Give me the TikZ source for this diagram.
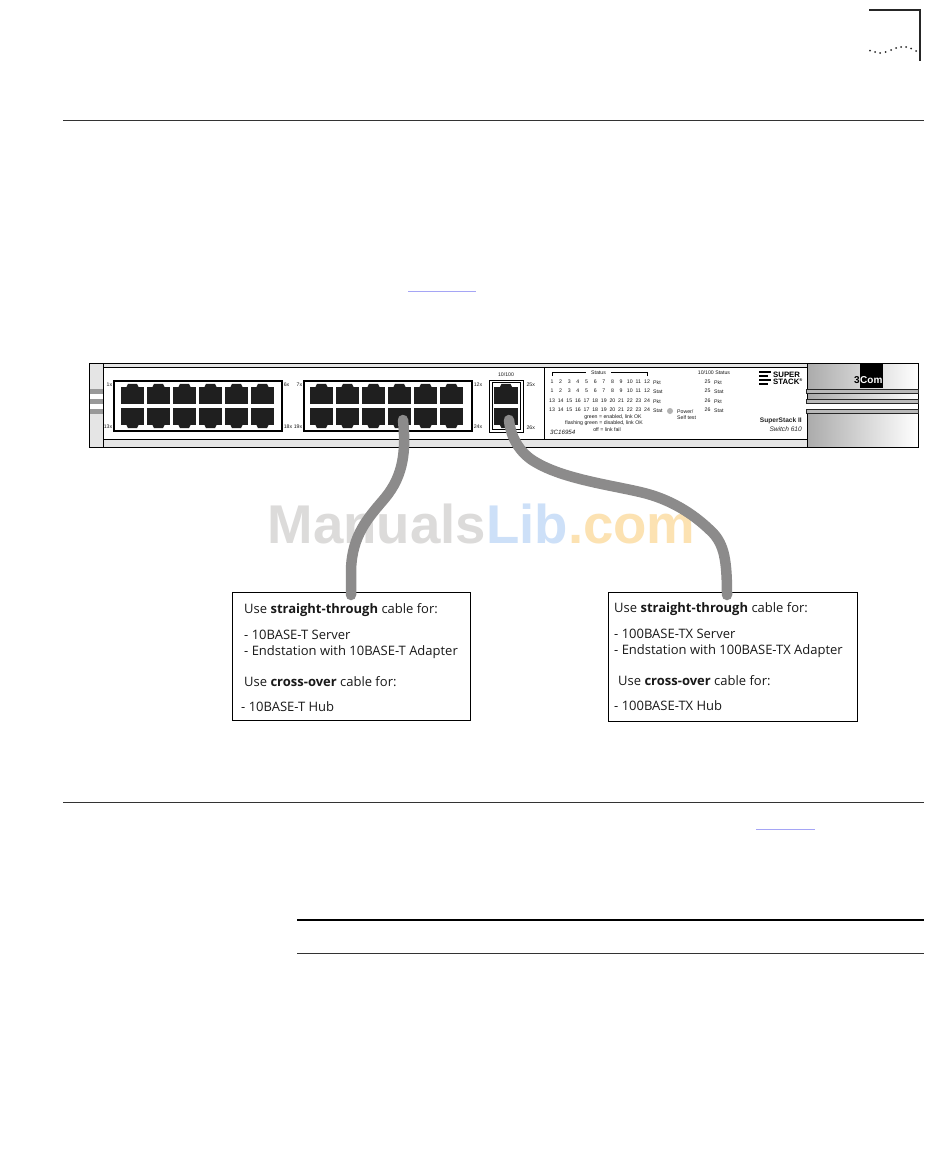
\documentclass[tikz,border=0pt]{standalone}
\usepackage{fontspec}
\setmainfont{Open Sans}
\newfontfamily\panelfont{Liberation Sans}
\usetikzlibrary{positioning}
\definecolor{cablegray}{HTML}{8C8B8B}
\definecolor{linkblue}{HTML}{A5A5F5}
\newcommand{\panelsize}{\panelfont\fontsize{5.2}{5}\selectfont}
\tikzset{
  rule/.style={line width=0.8pt, black!80},
  port/.style={fill=black!88, inner sep=0pt, minimum width=23pt, minimum height=17pt},
  portgroup/.style={draw, line width=1.3pt, inner sep=0pt},
  lbl/.style={font=\panelsize, inner sep=0pt, black!90},
  chassis/.style={draw, line width=1pt},
  bar/.style={draw=black!85, line width=0.7pt, left color=black!28, middle color=black!68, right color=black!28},
  cable/.style={cablegray, line width=10.5pt, line cap=round},
  notebox/.style={draw, line width=0.8pt, inner sep=0pt},
  note/.style={font=\fontsize{13}{14}\selectfont, anchor=base west, inner sep=0pt, black!90}
}
\begin{document}
\begin{tikzpicture}[x=1pt, y=-1pt]
  \useasboundingbox (0,0) rectangle (950,1157);
  \fill[white] (0,0) rectangle (950,1157);

  % page furniture
  \draw[line width=1.4pt, black!85] (869,10) -- (920,10) -- (920,61);
  \foreach \px/\py in {870/50.7, 875/52, 880/53, 885.5/52, 891/50, 896/48, 901/47, 906/47, 911/48.5, 916/51}
    \fill[black!85] (\px,\py) circle (1);
  \draw[rule] (63,120) -- (924,120);
  \draw[rule] (63,802) -- (924,802);
  \draw[line width=2.2pt] (297,920) -- (924,920);
  \draw[rule] (297,953) -- (924,953);
  \draw[linkblue, line width=1.5pt] (408,291.5) -- (476,291.5);
  \draw[linkblue, line width=1.5pt] (756,829.5) -- (815,829.5);

  % watermark
  \node[anchor=base west, inner sep=0pt, font=\panelfont\bfseries\fontsize{54.6}{55}\selectfont] (mark) at (267.5,543)
    {\textcolor[HTML]{DCDBDA}{Manuals}\textcolor[HTML]{CDE0F8}{Lib}\textcolor[HTML]{FCE2B2}{.com}};

  % switch body
  \filldraw[chassis, fill=black!10] (89,363) rectangle (807,447);
  \fill[white] (103,367) rectangle (807,439);
  \draw[line width=0.9pt] (103,363) -- (103,447);
  \draw[line width=0.7pt] (103,367) -- (807,367);
  \draw[line width=0.9pt] (103,439) -- (807,439);
  \draw[line width=0.9pt] (544,367) -- (544,439);
  \fill[white] (89.5,394) rectangle (102.5,399);
  \fill[white] (89.5,404) rectangle (102.5,409);
  \foreach \by in {389,399,409}
    \fill[black!40] (89.5,\by) rectangle (102.5,\by+5);
  \shade[left color=black!33, right color=white] (807,363) rectangle (918,447);
  \draw[chassis] (807,363) rectangle (918,447);
  \fill[white] (807,404) rectangle (918,409);
  \foreach \by in {389,399,409}
    \draw[bar] (806,\by) rectangle (918,\by+4.5);
  \fill[black] (860,363) rectangle (883,388);
  \node[font=\panelfont\bfseries\fontsize{10}{10}\selectfont, white, inner sep=0pt, anchor=base west] (brand) at (860,383.5) {Com};
  \node[font=\panelfont\bfseries\fontsize{10}{10}\selectfont, inner sep=0pt, anchor=base east] (brandthree) at (860,383.5) {3};

  % port groups
  \node[portgroup, minimum width=168pt, minimum height=50pt] (groupa) at (198,406) {};
  \node[portgroup, minimum width=168pt, minimum height=50pt] (groupb) at (388,406) {};
  \node[draw, line width=0.8pt, inner sep=0pt, minimum width=34pt, minimum height=52pt] (groupc) at (506,406) {};
  \node[draw, line width=0.8pt, inner sep=0pt, minimum width=28pt, minimum height=47pt] (groupd) at (506,406) {};
  \foreach \col in {0,...,5} {
    \node[port] (atop\col) at ({132.5+26*\col},395.5) {};
    \node[port] (abot\col) at ({132.5+26*\col},416.5) {};
    \node[port] (btop\col) at ({321.5+26*\col},395.5) {};
    \node[port] (bbot\col) at ({321.5+26*\col},416.5) {};
    \foreach \nm in {atop,btop}
      \fill[black!88] ([xshift=-6pt]\nm\col.north) -- ++(1.5,-3) -- ++(9,0) -- ++(1.5,3) -- cycle;
    \foreach \nm in {abot,bbot}
      \fill[black!88] ([xshift=-6pt]\nm\col.south) -- ++(1.5,3) -- ++(9,0) -- ++(1.5,-3) -- cycle;
  }
  \node[port, minimum width=24pt] (ctop) at (506,395.5) {};
  \node[port, minimum width=24pt] (cbot) at (506,416.5) {};
  \fill[black!88] ([xshift=-6pt]ctop.north) -- ++(1.5,-3) -- ++(9,0) -- ++(1.5,3) -- cycle;
  \fill[black!88] ([xshift=-6pt]cbot.south) -- ++(1.5,3) -- ++(9,0) -- ++(1.5,-3) -- cycle;

  % port labels
  \node[lbl, left=1pt of groupa.north west, yshift=-4pt] (l1) {1x};
  \node[lbl, left=1pt of groupa.south west, yshift=5pt] (l13) {13x};
  \node[lbl, right=1pt of groupa.north east, yshift=-4pt] (l6) {6x};
  \node[lbl, right=1pt of groupa.south east, yshift=5pt] (l18) {18x};
  \node[lbl, left=1pt of groupb.north west, yshift=-4pt] (l7) {7x};
  \node[lbl, left=1pt of groupb.south west, yshift=5pt] (l19) {19x};
  \node[lbl, right=1pt of groupb.north east, yshift=-4pt] (l12) {12x};
  \node[lbl, right=1pt of groupb.south east, yshift=5pt] (l24) {24x};
  \node[lbl, right=3pt of groupc.north east, yshift=-5pt] (l25) {25x};
  \node[lbl, right=3pt of groupc.south east, yshift=5pt] (l26) {26x};
  \node[lbl] (l10) at (506,375) {10/100};

  % status panel
  \node[lbl, inner xsep=5pt] (status) at (598.5,372.5) {Status};
  \draw[line width=0.6pt] (552,376) |- (status.west);
  \draw[line width=0.6pt] (647,376) |- (status.east);
  \foreach \rowy/\first/\txt in {382/1/Pkt, 391/1/Stat, 401/13/Pkt, 410/13/Stat} {
    \foreach \col in {0,...,11} {
      \pgfmathtruncatemacro{\num}{\first+\col}
      \node[lbl] (n\rowy-\col) at ({552+8.64*\col},\rowy) {\num};
    }
    \node[lbl, anchor=west] (t\rowy) at (653,\rowy+1) {\txt};
  }
  \node[lbl] (s10) at (714,373) {10/100 Status};
  \foreach \rowy/\num/\txt in {382/25/Pkt, 391/25/Stat, 401/26/Pkt, 410/26/Stat} {
    \node[lbl] (u\rowy) at (707.5,\rowy) {\num};
    \node[lbl, anchor=west] (v\rowy) at (714,\rowy+1) {\txt};
  }
  \node[circle, fill=black!30, inner sep=0pt, minimum size=6pt] (led) at (670,411) {};
  \node[lbl, anchor=west] (power) at (677,411.5) {Power/};
  \node[lbl, anchor=west] (selftest) at (677,418) {Self test};
  \node[lbl] (g1) at (613,417.5) {green = enabled, link OK};
  \node[lbl] (g2) at (604,423.5) {flashing green = disabled, link OK};
  \node[lbl] (g3) at (607,430) {off = link fail};
  \node[lbl, anchor=west, font=\panelfont\itshape\fontsize{6.2}{6}\selectfont] (model) at (550,432) {3C16954};

  % badge
  \foreach \by/\bx in {372/771, 376/768, 380/771, 384/768}
    \draw[line width=1.6pt] (759,\by) -- (\bx,\by);
  \node[inner sep=0pt, anchor=west, font=\panelfont\bfseries\fontsize{7.8}{7}\selectfont] (super) at (773,374.5) {SUPER};
  \node[inner sep=0pt, anchor=west, font=\panelfont\bfseries\fontsize{7.8}{7}\selectfont] (stack) at (773,381.5) {STACK\textsuperscript{\fontsize{4}{4}\selectfont ®}};
  \node[inner sep=0pt, anchor=east, font=\panelfont\bfseries\fontsize{6.6}{6}\selectfont, black!85] (ss) at (802,421) {SuperStack II};
  \node[inner sep=0pt, anchor=east, font=\panelfont\itshape\fontsize{6.6}{6}\selectfont, black!85] (sw) at (802,429.5) {Switch 610};

  % note boxes
  \node[notebox, minimum width=237.5pt, minimum height=128pt] (boxa) at (351.5,656) {};
  \node[notebox, minimum width=249.5pt, minimum height=129pt] (boxb) at (733,656.5) {};
  \coordinate (enda) at (351,595);
  \coordinate (endb) at (727,595);

  % cables
  \draw[cable] ([shift={(3.5pt,-3.5pt)}]bbot3.center) .. controls (406,450) and (404,475) .. (385,498) .. controls (368,518) and (352,535) .. (351,570) -- (enda);
  \draw[cable] ([shift={(3pt,-3.5pt)}]cbot.center) .. controls (511,440) and (522,455) .. (537,463) .. controls (565,479) and (610,485) .. (640,492) .. controls (675,500) and (698,518) .. (713,533) .. controls (724,545) and (727,560) .. (endb);

  % note texts
  \node[note] (a1) at (244,613) {Use \textbf{straight-through} cable for:};
  \node[note] (a2) at (244,639) {- 10BASE-T Server};
  \node[note] (a3) at (244,655) {- Endstation with 10BASE-T Adapter};
  \node[note] (a4) at (244,686) {Use \textbf{cross-over} cable for:};
  \node[note] (a5) at (241,711) {- 10BASE-T Hub};
  \node[note] (b1) at (614,612) {Use \textbf{straight-through} cable for:};
  \node[note] (b2) at (614,638) {- 100BASE-TX Server};
  \node[note] (b3) at (614,654) {- Endstation with 100BASE-TX Adapter};
  \node[note] (b4) at (618,685) {Use \textbf{cross-over} cable for:};
  \node[note] (b5) at (614,710) {- 100BASE-TX Hub};
\end{tikzpicture}
\end{document}
